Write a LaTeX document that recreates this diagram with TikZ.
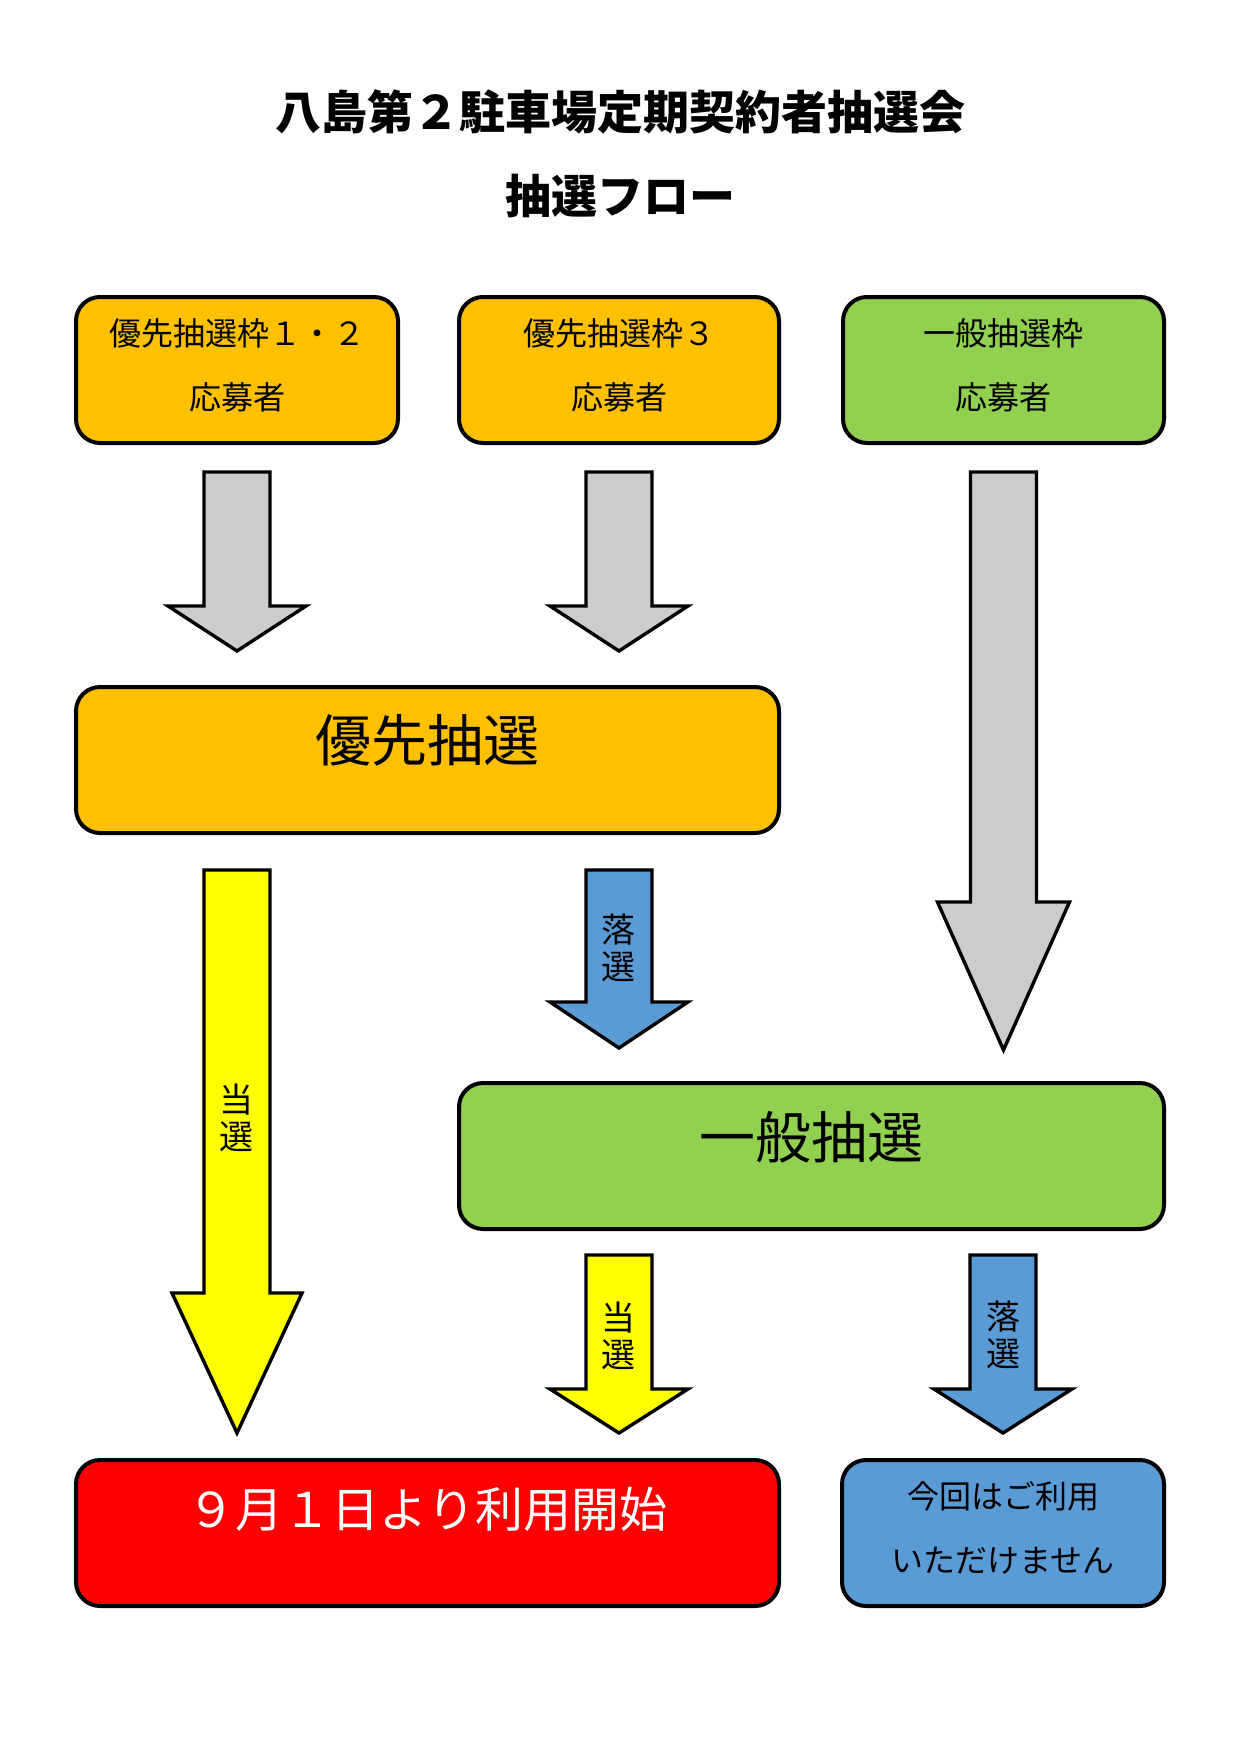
\documentclass[tikz,border=0pt]{standalone}
\usepackage{fontspec}
\setmainfont{Noto Sans CJK JP}
\usetikzlibrary{calc}

\definecolor{lotOrange}{HTML}{FFC000}
\definecolor{lotGreen}{HTML}{92D050}
\definecolor{lotGray}{HTML}{CCCCCC}
\definecolor{lotYellow}{HTML}{FFFF00}
\definecolor{lotBlue}{HTML}{5B9BD5}
\definecolor{lotRed}{HTML}{FF0000}

\tikzset{
  box/.style={draw, line width=4pt, rounded corners=24pt, minimum height=146pt, inner sep=0pt, align=center},
  smalltext/.style={font=\fontsize{32}{64}\selectfont},
  bigtext/.style={font=\fontsize{56}{60}\selectfont, inner sep=0pt},
  vlabel/.style={font=\fontsize{34}{37}\selectfont, align=center, inner sep=0pt},
  arrowline/.style={draw, line width=3.4pt, line join=miter},
}

% block arrow: fill, top, tip, head length, head half width
\newcommand{\blockarrow}[5]{%
  \draw[arrowline, fill=#1] let \p1=(#2), \p2=(#3) in
    (\x1-33pt,\y1) -- (\x1+33pt,\y1) -- (\x1+33pt,\y2+#4) -- (\x1+#5,\y2+#4)
    -- (\x1,\y2) -- (\x1-#5,\y2+#4) -- (\x1-33pt,\y2+#4) -- cycle;}

\begin{document}
\begin{tikzpicture}[x=1pt, y=-1pt]
\useasboundingbox (0,0) rectangle (1240,1754);

% title
\node[font=\fontsize{46}{54}\selectfont\bfseries] (title) at (620,112) {八島第２駐車場定期契約者抽選会};
\node[font=\fontsize{46}{54}\selectfont\bfseries] (subtitle) at (620,196) {抽選フロー};

% applicants
\node[box, fill=lotOrange, minimum width=322pt] (p12) at (237,370) {};
\node[smalltext, align=center] (p12text) at ($(p12.center)+(0,-5)$) {優先抽選枠１・２\\応募者};
\node[box, fill=lotOrange, minimum width=320pt] (p3) at (619,370) {};
\node[smalltext, align=center] (p3text) at ($(p3.center)+(0,-5)$) {優先抽選枠３\\応募者};
\node[box, fill=lotGreen, minimum width=321pt] (gen) at (1003.5,370) {};
\node[smalltext, align=center] (gentext) at ($(gen.center)+(0,-5)$) {一般抽選枠\\応募者};

% draws
\node[box, fill=lotOrange, minimum width=703pt] (yusen) at (427.5,760) {};
\node[bigtext] (yusentext) at ($(yusen.center)+(0,-20)$) {優先抽選};
\node[box, fill=lotGreen, minimum width=705pt] (ippan) at (811.5,1156) {};
\node[bigtext] (ippantext) at ($(ippan.center)+(0,-19)$) {一般抽選};

% results
\node[box, fill=lotRed, minimum width=703pt] (start) at (427.5,1533) {};
\node[font=\fontsize{48}{50}\selectfont, text=white, inner sep=0pt] (starttext) at ($(start.center)+(0,-24)$) {９月１日より利用開始};
\node[box, fill=lotBlue, minimum width=322pt] (ng) at (1003,1533) {};
\node[smalltext, align=center] (ngtext) at ($(ng.center)+(0,-5)$) {今回はご利用\\いただけません};

% arrows
\blockarrow{lotGray}{$(p12.south)+(0,27)$}{$(p12.south |- yusen.north)+(0,-34)$}{45pt}{69pt}
\blockarrow{lotGray}{$(p3.south)+(0,27)$}{$(p3.south |- yusen.north)+(0,-34)$}{45pt}{69pt}
\blockarrow{lotGray}{$(gen.south)+(0,27)$}{$(gen.south |- ippan.north)+(0,-31)$}{148pt}{66pt}
\blockarrow{lotYellow}{$(p12.south |- yusen.south)+(0,35)$}{$(p12.south |- start.north)+(0,-25)$}{140pt}{65pt}
\blockarrow{lotBlue}{$(p3.south |- yusen.south)+(0,35)$}{$(p3.south |- ippan.north)+(0,-33)$}{46pt}{69pt}
\blockarrow{lotYellow}{$(p3.south |- ippan.south)+(0,24)$}{$(p3.south |- start.north)+(0,-25)$}{44pt}{69pt}
\blockarrow{lotBlue}{$(ng.north |- ippan.south)+(0,24)$}{$(ng.north)+(0,-25)$}{44pt}{69pt}

% arrow labels
\node[vlabel] (win1) at (236,1118) {当\\選};
\node[vlabel] (lose1) at (618,948) {落\\選};
\node[vlabel] (win2) at (618,1336) {当\\選};
\node[vlabel] (lose2) at (1003,1335) {落\\選};
\end{tikzpicture}
\end{document}
